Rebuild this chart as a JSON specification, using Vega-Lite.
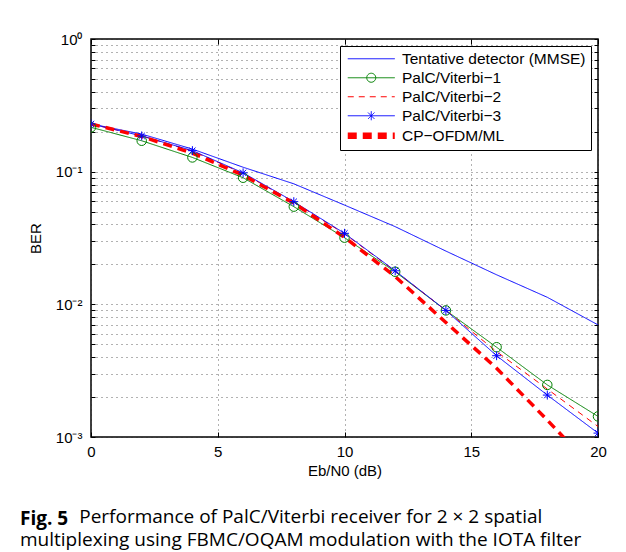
{
  "$schema": "https://vega.github.io/schema/vega-lite/v6.json",
  "width": 507,
  "height": 398,
  "autosize": {"type": "none"},
  "padding": {"left": 91, "top": 39, "right": 28, "bottom": 115},
  "background": "white",
  "config": {
    "view": {"stroke": "black", "strokeWidth": 1.5},
    "font": "Liberation Sans",
    "axis": {"labelFont": "Liberation Sans", "titleFont": "Liberation Sans", "labelFontSize": 15, "titleFontSize": 15, "titleFontWeight": "normal", "labelColor": "black", "titleColor": "black", "tickColor": "black", "domain": false}
  },
  "title": {
    "text": "Fig. 5",
    "orient": "bottom",
    "anchor": "start",
    "frame": "group",
    "dx": -71,
    "offset": 32,
    "font": "Open Sans",
    "fontSize": 19,
    "fontWeight": "bold",
    "color": "black",
    "subtitle": ["\u200b\u00a0\u00a0\u00a0\u00a0\u00a0\u00a0\u00a0\u00a0\u00a0\u00a0\u00a0\u00a0Performance of PalC/Viterbi receiver for 2 × 2 spatial", "multiplexing using FBMC/OQAM modulation with the IOTA filter"],
    "subtitleFont": "Open Sans",
    "subtitleFontSize": 19,
    "subtitleColor": "black",
    "subtitleLineHeight": 23,
    "subtitlePadding": -21
  },
  "data": {
    "values": [
      {"series": "Tentative detector (MMSE)", "snr": 0, "ber": 0.229},
      {"series": "Tentative detector (MMSE)", "snr": 2, "ber": 0.192},
      {"series": "Tentative detector (MMSE)", "snr": 4, "ber": 0.148},
      {"series": "Tentative detector (MMSE)", "snr": 6, "ber": 0.108},
      {"series": "Tentative detector (MMSE)", "snr": 8, "ber": 0.081},
      {"series": "Tentative detector (MMSE)", "snr": 10, "ber": 0.056},
      {"series": "Tentative detector (MMSE)", "snr": 12, "ber": 0.0385},
      {"series": "Tentative detector (MMSE)", "snr": 14, "ber": 0.0252},
      {"series": "Tentative detector (MMSE)", "snr": 16, "ber": 0.0167},
      {"series": "Tentative detector (MMSE)", "snr": 18, "ber": 0.0113},
      {"series": "Tentative detector (MMSE)", "snr": 20, "ber": 0.0070},
      {"series": "PalC/Viterbi−1", "snr": 0, "ber": 0.216},
      {"series": "PalC/Viterbi−1", "snr": 2, "ber": 0.171},
      {"series": "PalC/Viterbi−1", "snr": 4, "ber": 0.128},
      {"series": "PalC/Viterbi−1", "snr": 6, "ber": 0.090},
      {"series": "PalC/Viterbi−1", "snr": 8, "ber": 0.0545},
      {"series": "PalC/Viterbi−1", "snr": 10, "ber": 0.0318},
      {"series": "PalC/Viterbi−1", "snr": 12, "ber": 0.0176},
      {"series": "PalC/Viterbi−1", "snr": 14, "ber": 0.0090},
      {"series": "PalC/Viterbi−1", "snr": 16, "ber": 0.00475},
      {"series": "PalC/Viterbi−1", "snr": 18, "ber": 0.00247},
      {"series": "PalC/Viterbi−1", "snr": 20, "ber": 0.00143},
      {"series": "PalC/Viterbi−2", "snr": 0, "ber": 0.229},
      {"series": "PalC/Viterbi−2", "snr": 2, "ber": 0.186},
      {"series": "PalC/Viterbi−2", "snr": 4, "ber": 0.143},
      {"series": "PalC/Viterbi−2", "snr": 6, "ber": 0.097},
      {"series": "PalC/Viterbi−2", "snr": 8, "ber": 0.059},
      {"series": "PalC/Viterbi−2", "snr": 10, "ber": 0.034},
      {"series": "PalC/Viterbi−2", "snr": 12, "ber": 0.0178},
      {"series": "PalC/Viterbi−2", "snr": 14, "ber": 0.0090},
      {"series": "PalC/Viterbi−2", "snr": 16, "ber": 0.0044},
      {"series": "PalC/Viterbi−2", "snr": 18, "ber": 0.0023},
      {"series": "PalC/Viterbi−2", "snr": 20, "ber": 0.0012},
      {"series": "PalC/Viterbi−3", "snr": 0, "ber": 0.229},
      {"series": "PalC/Viterbi−3", "snr": 2, "ber": 0.186},
      {"series": "PalC/Viterbi−3", "snr": 4, "ber": 0.144},
      {"series": "PalC/Viterbi−3", "snr": 6, "ber": 0.098},
      {"series": "PalC/Viterbi−3", "snr": 8, "ber": 0.0594},
      {"series": "PalC/Viterbi−3", "snr": 10, "ber": 0.0343},
      {"series": "PalC/Viterbi−3", "snr": 12, "ber": 0.0179},
      {"series": "PalC/Viterbi−3", "snr": 14, "ber": 0.0090},
      {"series": "PalC/Viterbi−3", "snr": 16, "ber": 0.0041},
      {"series": "PalC/Viterbi−3", "snr": 18, "ber": 0.00207},
      {"series": "PalC/Viterbi−3", "snr": 20, "ber": 0.00107},
      {"series": "CP−OFDM/ML", "snr": 0, "ber": 0.229},
      {"series": "CP−OFDM/ML", "snr": 2, "ber": 0.184},
      {"series": "CP−OFDM/ML", "snr": 4, "ber": 0.138},
      {"series": "CP−OFDM/ML", "snr": 6, "ber": 0.094},
      {"series": "CP−OFDM/ML", "snr": 8, "ber": 0.058},
      {"series": "CP−OFDM/ML", "snr": 10, "ber": 0.032},
      {"series": "CP−OFDM/ML", "snr": 12, "ber": 0.0162},
      {"series": "CP−OFDM/ML", "snr": 14, "ber": 0.0073},
      {"series": "CP−OFDM/ML", "snr": 16, "ber": 0.0033},
      {"series": "CP−OFDM/ML", "snr": 18, "ber": 0.00134},
      {"series": "CP−OFDM/ML", "snr": 20, "ber": 0.00053}
    ]
  },
  "layer": [
    {
      "encoding": {
        "x": {
          "field": "snr", "type": "quantitative",
          "scale": {"domain": [0, 20], "nice": false},
          "axis": {"orient": "bottom", "values": [0, 5, 10, 15, 20], "title": "Eb/N0 (dB)", "grid": true, "gridDash": [1, 4], "gridColor": "#222", "gridOpacity": 0.7, "tickSize": -5, "labelPadding": 12, "titlePadding": 4, "labelFlush": false}
        },
        "y": {
          "field": "ber", "type": "quantitative",
          "scale": {"type": "log", "domain": [0.001, 1], "nice": false},
          "axis": {"orient": "left", "values": [0.001, 0.002, 0.003, 0.004, 0.005, 0.006, 0.007, 0.008, 0.009, 0.01, 0.02, 0.03, 0.04, 0.05, 0.06, 0.07, 0.08, 0.09, 0.1, 0.2, 0.3, 0.4, 0.5, 0.6, 0.7, 0.8, 0.9, 1],
            "title": "BER", "grid": true, "gridDash": [1, 4], "gridColor": "#222", "gridOpacity": 0.7, "tickSize": -4, "labelPadding": 13, "titlePadding": 12, "labelFlush": false, "labelOverlap": false,
            "labelExpr": "datum.value == 1 ? '10⁰' : datum.value == 0.1 ? '10⁻¹' : datum.value == 0.01 ? '10⁻²' : datum.value == 0.001 ? '10⁻³' : ''"}
        }
      },
      "layer": [
        {
          "mark": {"type": "line", "clip": true, "interpolate": "linear"},
          "encoding": {
            "color": {
              "field": "series", "type": "nominal",
              "scale": {"domain": ["Tentative detector (MMSE)", "PalC/Viterbi−1", "PalC/Viterbi−2", "PalC/Viterbi−3", "CP−OFDM/ML"], "range": ["#0000ff", "#008000", "#ff0000", "#0000ff", "#ff0000"]},
              "legend": {
                "title": null, "orient": "top-right", "offset": 7,
                "fillColor": "white", "strokeColor": "black", "padding": 5,
                "labelFont": "Liberation Sans", "labelFontSize": 15.5, "labelColor": "black", "labelLimit": 400,
                "symbolSize": 100, "symbolOffset": 18.5, "labelOffset": 23, "rowPadding": 2,
                "encode": {
                  "symbols": {
                    "update": {
                      "shape": {"signal": "datum.value === 'PalC/Viterbi−1' ? 'M-4.7,0H4.7M0.9,0A0.9,0.9 0 1 1 -0.9,0A0.9,0.9 0 1 1 0.9,0' : datum.value === 'PalC/Viterbi−3' ? 'M-4.7,0H4.7M0,-0.9V0.9M-0.64,-0.64L0.64,0.64M-0.64,0.64L0.64,-0.64' : datum.value === 'CP−OFDM/ML' ? 'M-4.7,-0.3H4.7M-4.7,-0.15H4.7M-4.7,0H4.7M-4.7,0.15H4.7M-4.7,0.3H4.7' : 'M-4.7,0H4.7'"},
                      "stroke": {"scale": "color", "field": "value"},
                      "strokeDash": {"signal": "datum.value === 'PalC/Viterbi−2' ? [6, 5] : datum.value === 'CP−OFDM/ML' ? [10, 6] : [1, 0]"},
                      "fill": {"value": "transparent"},
                      "opacity": {"value": 1}
                    }
                  }
                }
              }
            },
            "strokeDash": {
              "field": "series", "type": "nominal", "legend": null,
              "scale": {"domain": ["Tentative detector (MMSE)", "PalC/Viterbi−1", "PalC/Viterbi−2", "PalC/Viterbi−3", "CP−OFDM/ML"], "range": [[1, 0], [1, 0], [6, 5], [1, 0], [9, 6]]}
            },
            "strokeWidth": {
              "field": "series", "type": "ordinal", "legend": null,
              "scale": {"type": "ordinal", "domain": ["Tentative detector (MMSE)", "PalC/Viterbi−1", "PalC/Viterbi−2", "PalC/Viterbi−3", "CP−OFDM/ML"], "range": [1, 1, 1, 1, 3.5]}
            }
          }
        },
        {
          "transform": [{"filter": "datum.series === 'PalC/Viterbi−1'"}],
          "mark": {"type": "point", "shape": "circle", "filled": false, "color": "#008000", "size": 90, "strokeWidth": 1, "opacity": 1, "clip": true}
        },
        {
          "transform": [{"filter": "datum.series === 'PalC/Viterbi−3'"}],
          "mark": {"type": "point", "shape": "M0,-1V1M-1,0H1M-0.7,-0.7L0.7,0.7M-0.7,0.7L0.7,-0.7", "filled": false, "color": "#0000ff", "size": 80, "strokeWidth": 1, "opacity": 1, "clip": true}
        }
      ]
    },
    {
      "mark": {"type": "point", "opacity": 0},
      "encoding": {
        "x": {"field": "snr", "type": "quantitative", "axis": {"orient": "top", "values": [0, 5, 10, 15, 20], "labels": false, "title": null, "grid": false, "tickSize": -5}},
        "y": {"field": "ber", "type": "quantitative", "axis": {"orient": "right", "values": [0.001, 0.002, 0.003, 0.004, 0.005, 0.006, 0.007, 0.008, 0.009, 0.01, 0.02, 0.03, 0.04, 0.05, 0.06, 0.07, 0.08, 0.09, 0.1, 0.2, 0.3, 0.4, 0.5, 0.6, 0.7, 0.8, 0.9, 1], "labels": false, "title": null, "grid": false, "tickSize": -4}}
      }
    }
  ],
  "resolve": {"axis": {"x": "independent", "y": "independent"}}
}
